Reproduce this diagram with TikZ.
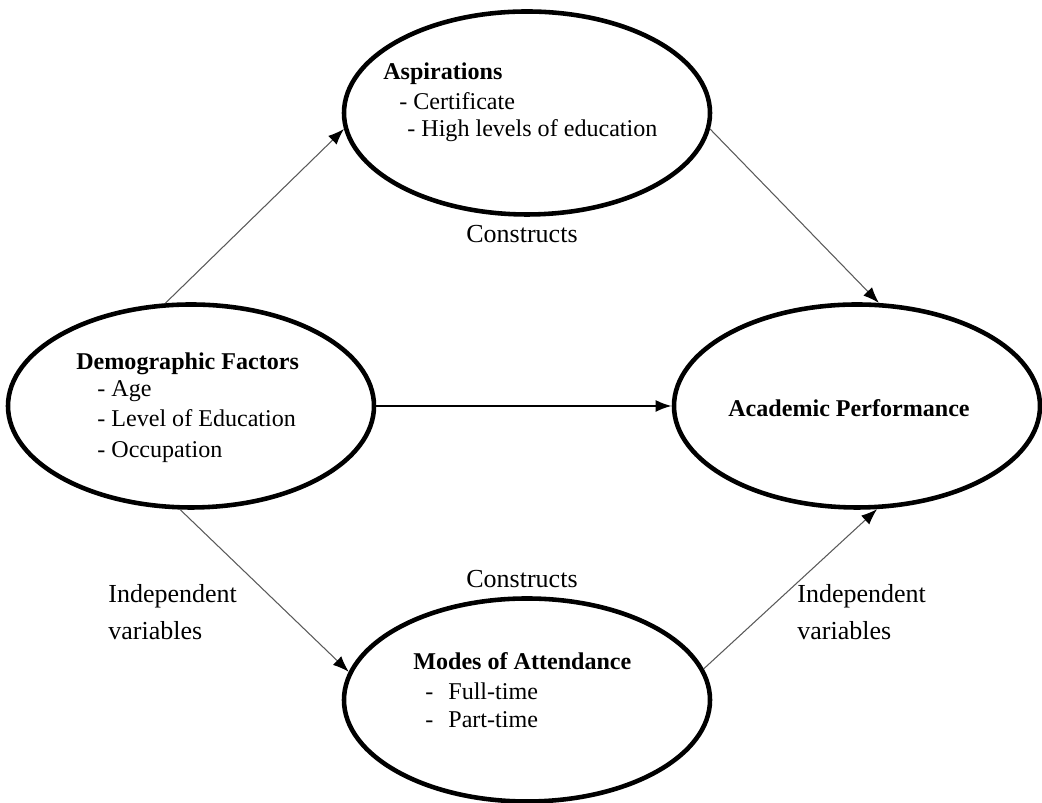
\documentclass[tikz,border=0pt]{standalone}
\usepackage{fontspec}
\setmainfont{Liberation Serif}
\usetikzlibrary{shapes.geometric,arrows.meta}
\begin{document}
\begin{tikzpicture}[
  factor/.style={draw,ellipse,line width=2.6pt,minimum width=7.32cm,minimum height=4.06cm,inner sep=0pt},
  intext/.style={anchor=base west,inner sep=0pt,font=\fontsize{13.7}{16}\selectfont},
  outtext/.style={anchor=base west,inner sep=0pt,font=\fontsize{14.8}{18}\selectfont},
  link/.style={draw=black!65,line width=0.6pt,-{Latex[black,length=0.32cm,width=0.24cm]}}]
\useasboundingbox (0,0) rectangle (20.84,16.06);
%ellipses
\node[factor] (asp) at (10.54,13.80) {};
\node[factor] (demo) at (3.82,7.94) {};
\node[factor] (acad) at (17.14,7.94) {};
\node[factor] (modes) at (10.54,2.06) {};
%texts inside
\node[intext] (asp0) at (7.66,14.46) {\textbf{Aspirations}};
\node[intext] (asp1) at (7.98,13.86) {- Certificate};
\node[intext] (asp2) at (8.14,13.32) {- High levels of education};
\node[intext] (demo0) at (1.52,8.66) {\textbf{Demographic Factors}};
\node[intext] (demo1) at (1.94,8.12) {- Age};
\node[intext] (demo2) at (1.94,7.52) {- Level of Education};
\node[intext] (demo3) at (1.94,6.90) {- Occupation};
\node[intext,anchor=base] (acad0) at (16.98,7.72) {\textbf{Academic Performance}};
\node[intext] (modes0) at (8.26,2.66) {\textbf{Modes of Attendance}};
\node[intext] (modes1) at (8.50,2.06) {-\hspace{0.3cm}Full-time};
\node[intext] (modes2) at (8.50,1.50) {-\hspace{0.3cm}Part-time};
%texts outside
\node[outtext,anchor=base] (con1) at (10.44,11.20) {Constructs};
\node[outtext,anchor=base] (con2) at (10.44,4.30) {Constructs};
\node[outtext] (ivl1) at (2.16,4.00) {Independent};
\node[outtext] (ivl2) at (2.16,3.26) {variables};
\node[outtext] (ivr1) at (15.94,4.00) {Independent};
\node[outtext] (ivr2) at (15.94,3.26) {variables};
%arrows
\draw[link] (demo.104)--(asp.185);
\draw[link] (asp.-5)--(acad.78);
\draw[link,draw=black,line width=1.2pt] (demo.east)--(acad.west);
\draw[link] (demo.264)--(modes.171);
\draw[link] (modes.10)--(acad.-79);
\end{tikzpicture}
\end{document}
